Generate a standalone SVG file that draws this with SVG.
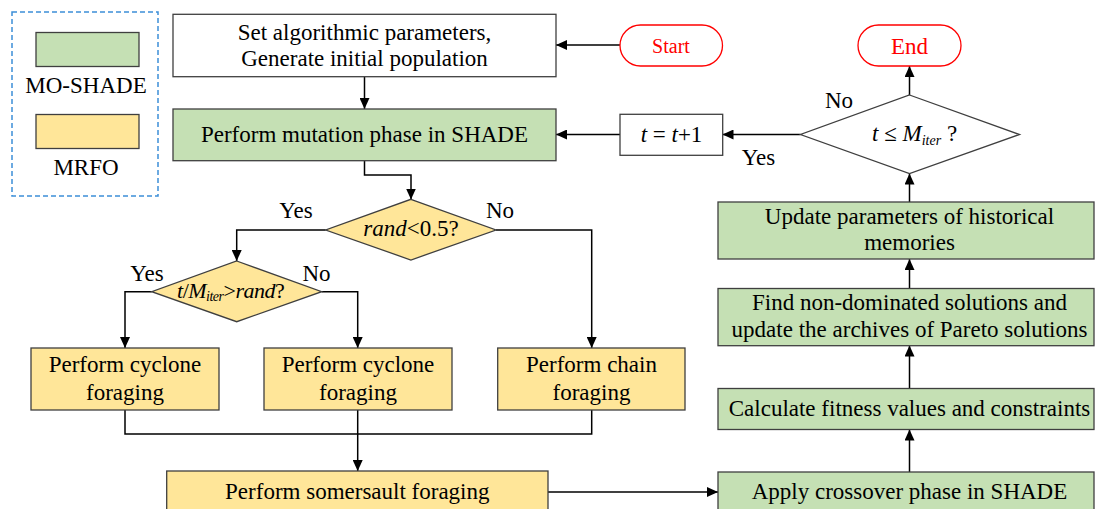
<svg xmlns="http://www.w3.org/2000/svg" width="1095" height="509" viewBox="0 0 1095 509">
<defs>
<style>
text{font-family:"Liberation Serif","Times New Roman",serif;font-size:23px;fill:#000}
.c{text-anchor:middle}
.i{font-style:italic}
.g{fill:#c5e0b4;stroke:#3f3f3f;stroke-width:1.3}
.y{fill:#ffe699;stroke:#3f3f3f;stroke-width:1.3}
.w{fill:#fff;stroke:#3f3f3f;stroke-width:1.3}
.term{fill:#fff;stroke:#ff0000;stroke-width:1.3}
.red{fill:#ff0000}
.ln{fill:none;stroke:#000;stroke-width:1.5}
.arr{marker-end:url(#ah)}
</style>
<marker id="ah" markerUnits="userSpaceOnUse" markerWidth="11" markerHeight="10" refX="11" refY="5" orient="auto">
<path d="M0,0 L11,5 L0,10 z" fill="#000"/>
</marker>
</defs>
<rect width="1095" height="509" fill="#fff"/>

<g id="legend">
<rect x="12" y="12" width="146" height="184" fill="none" stroke="#3c8fd8" stroke-width="1.5" stroke-dasharray="5,3"/>
<rect class="g" x="36" y="32.5" width="103" height="34"/>
<text class="c" x="86" y="93">MO-SHADE</text>
<rect class="y" x="36" y="114.5" width="103" height="34"/>
<text class="c" x="86" y="175">MRFO</text>
</g>

<g id="connectors">
<line class="ln arr" x1="620" y1="45" x2="556" y2="45"/>
<line class="ln arr" x1="364.5" y1="77" x2="364.5" y2="109"/>
<polyline class="ln arr" points="364.5,161 364.5,175 411,175 411,199.5"/>
<line class="ln arr" x1="620" y1="134.5" x2="556" y2="134.5"/>
<line class="ln arr" x1="800.5" y1="134.5" x2="722.5" y2="134.5"/>
<line class="ln arr" x1="909.5" y1="95" x2="909.5" y2="66"/>
<line class="ln arr" x1="909.5" y1="202" x2="909.5" y2="173.5"/>
<line class="ln arr" x1="909.5" y1="288.5" x2="909.5" y2="259"/>
<line class="ln arr" x1="909.5" y1="388.5" x2="909.5" y2="345.5"/>
<line class="ln arr" x1="909.5" y1="472" x2="909.5" y2="429.5"/>
<line class="ln arr" x1="548" y1="492" x2="718" y2="492"/>
<polyline class="ln arr" points="325.7,230 236.7,230 236.7,261"/>
<polyline class="ln arr" points="496,230 591.7,230 591.7,348"/>
<polyline class="ln arr" points="151.7,291.7 125,291.7 125,348"/>
<polyline class="ln arr" points="321.7,291.7 357.7,291.7 357.7,348"/>
<polyline class="ln" points="125,410 125,434 591.7,434 591.7,410"/>
<line class="ln arr" x1="357.7" y1="410" x2="357.7" y2="471"/>
</g>

<g id="start">
<rect class="term" x="620" y="25" width="102.5" height="41" rx="20.5"/>
<text class="c red" x="671" y="52.5" style="font-size:20px">Start</text>
</g>

<g id="end">
<rect class="term" x="858" y="25" width="103" height="41" rx="20.5"/>
<text class="c red" x="909.5" y="53.5">End</text>
</g>

<g id="init">
<rect class="w" x="173" y="14.3" width="383" height="62.4"/>
<text class="c" x="364.5" y="39.5">Set algorithmic parameters,</text>
<text class="c" x="364.5" y="66">Generate initial population</text>
</g>

<g id="mutation">
<rect class="g" x="173" y="109" width="383" height="51.7"/>
<text class="c" x="364.5" y="142">Perform mutation phase in SHADE</text>
</g>

<g id="increment">
<rect class="w" x="620" y="114.3" width="102.7" height="41"/>
<text class="c" x="671.5" y="142"><tspan class="i">t</tspan> = <tspan class="i">t</tspan>+1</text>
</g>

<g id="check-iter">
<polygon class="w" points="909.5,95 1019.5,134.5 909.5,173.5 800.5,134.5"/>
<text x="872" y="140.5"><tspan class="i">t</tspan> ≤ <tspan class="i">M</tspan><tspan class="i" style="font-size:14px" dy="4">iter</tspan><tspan dy="-4"> ?</tspan></text>
<text class="c" x="839" y="108">No</text>
<text class="c" x="758.5" y="165">Yes</text>
</g>

<g id="rand-check">
<polygon class="y" points="410.9,199.3 496,230 410.9,260 325.7,230"/>
<text class="c" x="410.9" y="236"><tspan class="i">rand</tspan>&lt;0.5?</text>
<text class="c" x="296" y="218">Yes</text>
<text class="c" x="500" y="218">No</text>
</g>

<g id="ratio-check">
<polygon class="y" points="236.7,261 321.7,291.7 236.7,321.7 151.7,291.7"/>
<text x="177" y="298" style="font-size:22px" letter-spacing="-0.5"><tspan class="i">t</tspan>/<tspan class="i">M</tspan><tspan class="i" style="font-size:14px" dy="3">iter</tspan><tspan dy="-3">&gt;</tspan><tspan class="i">rand</tspan>?</text>
<text class="c" x="147" y="281">Yes</text>
<text class="c" x="316.5" y="281">No</text>
</g>

<g id="cyclone1">
<rect class="y" x="31" y="348" width="188" height="62"/>
<text class="c" x="125" y="372">Perform cyclone</text>
<text class="c" x="125" y="400">foraging</text>
</g>

<g id="cyclone2">
<rect class="y" x="264" y="348" width="188" height="62"/>
<text class="c" x="358" y="372">Perform cyclone</text>
<text class="c" x="358" y="400">foraging</text>
</g>

<g id="chain">
<rect class="y" x="497.7" y="348" width="187.3" height="62"/>
<text class="c" x="591.5" y="372">Perform chain</text>
<text class="c" x="591.5" y="400">foraging</text>
</g>

<g id="somersault">
<rect class="y" x="166.7" y="471" width="381.3" height="45"/>
<text class="c" x="357.3" y="498.5">Perform somersault foraging</text>
</g>

<g id="crossover">
<rect class="g" x="718" y="472" width="376" height="45"/>
<text class="c" x="909.5" y="499">Apply crossover phase in SHADE</text>
</g>

<g id="fitness">
<rect class="g" x="718" y="388.5" width="376" height="41"/>
<text class="c" x="909.5" y="416">Calculate fitness values and constraints</text>
</g>

<g id="pareto">
<rect class="g" x="718" y="288.5" width="376" height="57.2"/>
<text class="c" x="909.5" y="309.5">Find non-dominated solutions and</text>
<text class="c" x="909.5" y="336.7">update the archives of Pareto solutions</text>
</g>

<g id="memories">
<rect class="g" x="718" y="202" width="376" height="57"/>
<text class="c" x="909.5" y="223.5">Update parameters of historical</text>
<text class="c" x="909.5" y="250">memories</text>
</g>
</svg>
